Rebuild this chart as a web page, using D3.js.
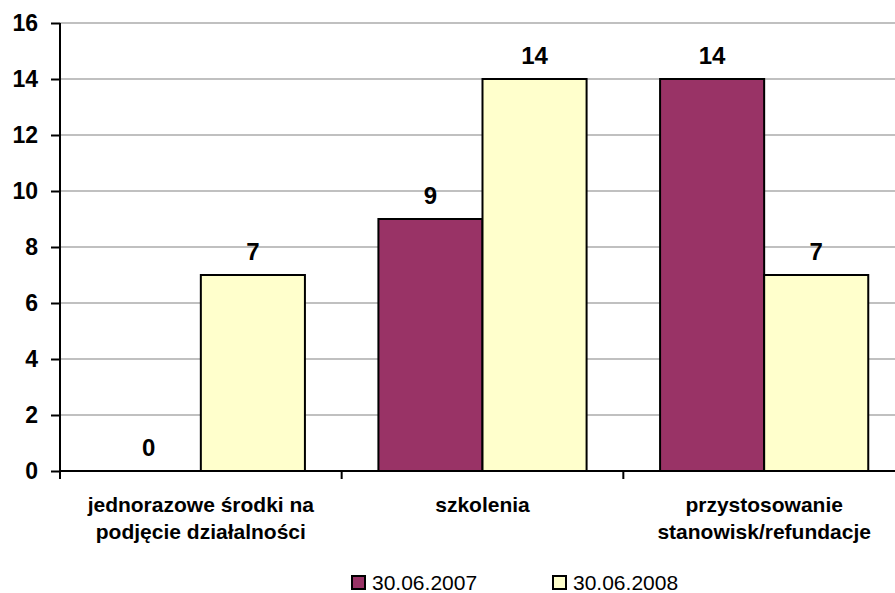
<!DOCTYPE html>
<html>
<head>
<meta charset="utf-8">
<script src="https://cdn.jsdelivr.net/npm/d3@7"></script>
<style>
body { margin: 0; background: #fff; }
svg { font-family: "Liberation Sans", Arial, sans-serif; }
.grid line { stroke: #c0c0c0; stroke-width: 2; }
.axis path, .axis line { stroke: #000; stroke-width: 2; }
</style>
</head>
<body>
<script>
//chart data
var categories = [["jednorazowe środki na", "podjęcie działalności"], ["szkolenia"], ["przystosowanie", "stanowisk/refundacje"]];
var series = ["30.06.2007", "30.06.2008"];
var values2007 = [0, 9, 14];
var values2008 = [7, 14, 7];
var yTicks = [0, 2, 4, 6, 8, 10, 12, 14, 16];
var colors = ["#993366", "#FFFFCC"];

//dimensions
var w = 895, h = 593;
var plotLeft = 60, plotRight = 905, plotTop = 23, plotBottom = 471;

var svg = d3.select("body").append("svg")
	.attr("width", w)
	.attr("height", h);

var x = d3.scaleBand()
	.domain(d3.range(categories.length))
	.range([plotLeft, plotRight]);

var xInner = d3.scaleBand()
	.domain(d3.range(series.length))
	.range([0, x.bandwidth()])
	.paddingOuter(0.353);

var y = d3.scaleLinear()
	.domain([0, 16])
	.range([plotBottom, plotTop]);

//gridlines
svg.append("g")
	.attr("class", "grid")
	.selectAll("line")
	.data(yTicks.slice(1))
	.enter()
	.append("line")
	.attr("x1", plotLeft)
	.attr("x2", w)
	.attr("y1", function(d){ return y(d); })
	.attr("y2", function(d){ return y(d); });

//bars
var rows = categories.map(function(c, i){
	return [values2007[i], values2008[i]];
});

var groups = svg.selectAll(".group")
	.data(rows)
	.enter()
	.append("g")
	.attr("class", "group")
	.attr("transform", function(d, i){ return "translate(" + x(i) + ",0)"; });

groups.selectAll("rect")
	.data(function(d){ return d; })
	.enter()
	.append("rect")
	.attr("x", function(d, j){ return xInner(j); })
	.attr("width", xInner.bandwidth())
	.attr("y", function(d){ return y(d); })
	.attr("height", function(d){ return plotBottom - y(d); })
	.attr("fill", function(d, j){ return colors[j]; })
	.attr("stroke", "#000")
	.attr("stroke-width", 2)
	.style("display", function(d){ return d === 0 ? "none" : null; });

//value labels
groups.selectAll(".val")
	.data(function(d){ return d; })
	.enter()
	.append("text")
	.attr("class", "val")
	.attr("x", function(d, j){ return xInner(j) + xInner.bandwidth() / 2; })
	.attr("y", function(d){ return y(d) - 15; })
	.attr("text-anchor", "middle")
	.attr("font-size", 24)
	.attr("font-weight", "bold")
	.text(function(d){ return d; });

//y axis
var yAxis = svg.append("g")
	.attr("class", "axis")
	.attr("transform", "translate(" + plotLeft + ",0)")
	.call(d3.axisLeft(y).tickValues(yTicks).tickSize(9).tickPadding(13));
yAxis.select(".domain").attr("d", "M0," + plotTop + "V" + plotBottom);
yAxis.selectAll("text")
	.attr("font-size", 23)
	.attr("font-weight", "bold")
	.attr("fill", "#000")
	.attr("font-family", "Liberation Sans, Arial, sans-serif");

//x axis
var xAxis = svg.append("g")
	.attr("class", "axis")
	.attr("transform", "translate(0," + plotBottom + ")")
	.call(d3.axisBottom(x).tickSize(0).tickFormat(""));
xAxis.select(".domain").attr("d", "M" + plotLeft + ",0H" + w);
xAxis.selectAll(".sep")
	.data(d3.range(categories.length + 1))
	.enter()
	.append("line")
	.attr("class", "sep")
	.attr("x1", function(d){ return plotLeft + d * x.step(); })
	.attr("x2", function(d){ return plotLeft + d * x.step(); })
	.attr("y1", 0)
	.attr("y2", 8);

//category labels
var catText = svg.selectAll(".cat")
	.data(categories)
	.enter()
	.append("text")
	.attr("class", "cat")
	.attr("text-anchor", "middle")
	.attr("font-size", 21)
	.attr("font-weight", "bold")
	.attr("y", 512);

catText.selectAll("tspan")
	.data(function(d, i){ return d.map(function(s){ return {s: s, i: i}; }); })
	.enter()
	.append("tspan")
	.attr("x", function(d){ return x(d.i) + x.bandwidth() / 2; })
	.attr("dy", function(d, k){ return k === 0 ? 0 : 27; })
	.text(function(d){ return d.s; });

//legend
var legendX = [352, 553];
var legend = svg.selectAll(".legend")
	.data(series)
	.enter()
	.append("g")
	.attr("class", "legend")
	.attr("transform", function(d, i){ return "translate(" + legendX[i] + ",576)"; });

legend.append("rect")
	.attr("width", 13)
	.attr("height", 13)
	.attr("fill", function(d, i){ return colors[i]; })
	.attr("stroke", "#000")
	.attr("stroke-width", 2);

legend.append("text")
	.attr("x", 20)
	.attr("y", 14)
	.attr("font-size", 21)
	.text(function(d){ return d; });
</script>
</body>
</html>
